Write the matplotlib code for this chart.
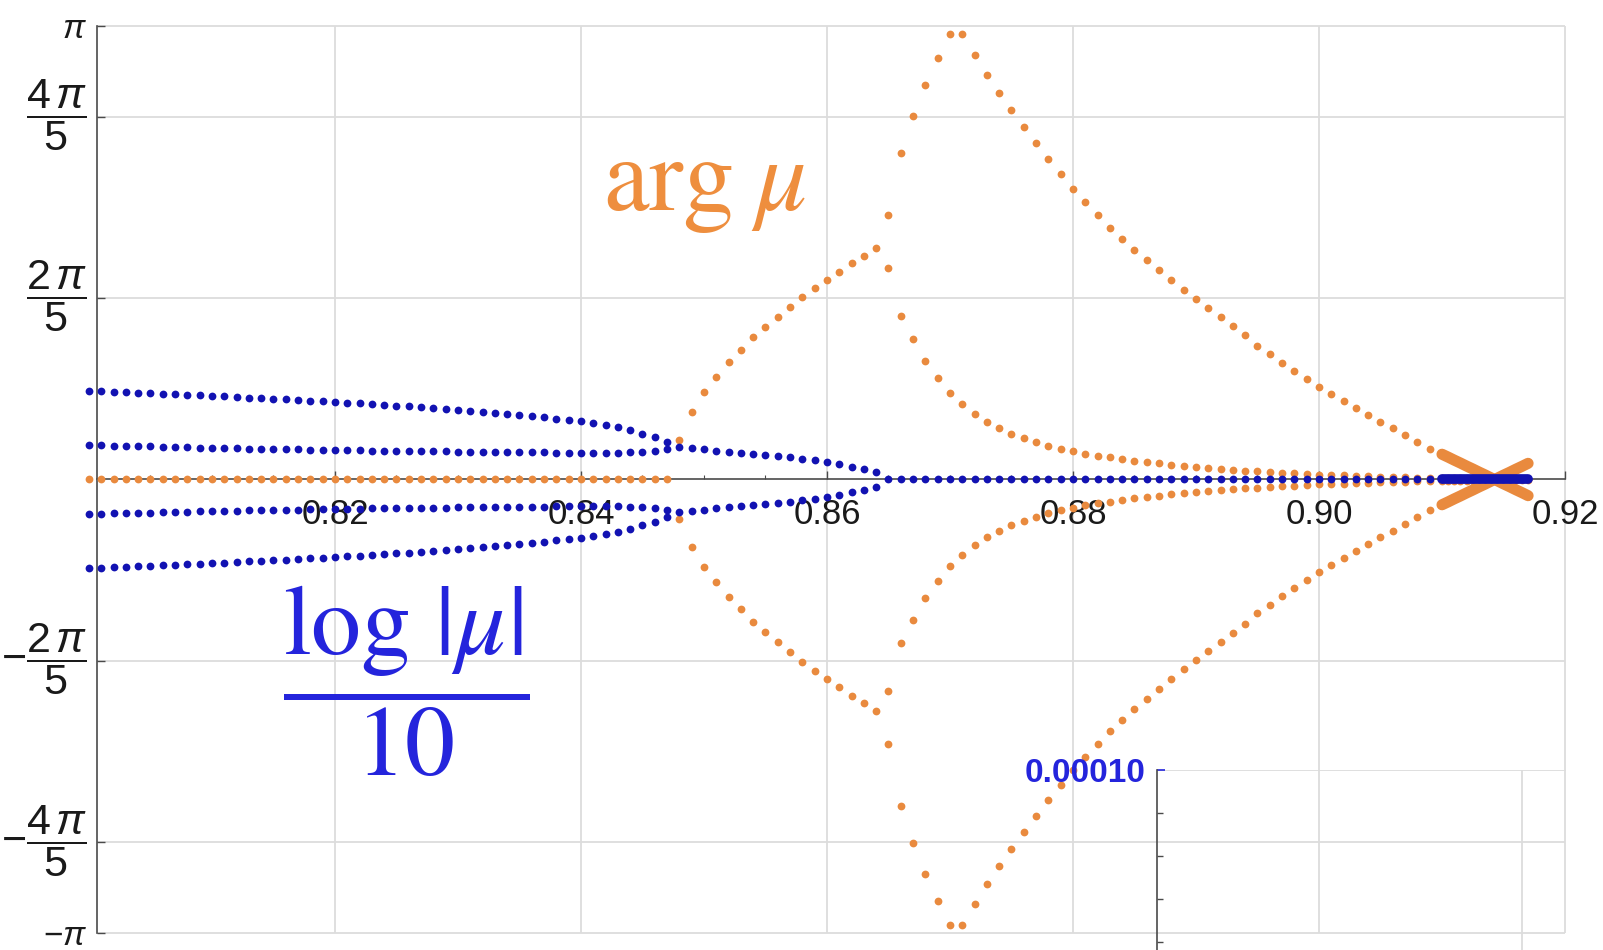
import numpy as np
import matplotlib
matplotlib.use("Agg")
import matplotlib.pyplot as plt
from matplotlib.ticker import FixedLocator, FixedFormatter, NullFormatter

plt.rcParams['font.family'] = ['Liberation Sans', 'DejaVu Sans']
plt.rcParams['mathtext.fontset'] = 'custom'
plt.rcParams['mathtext.rm'] = 'Liberation Sans'
plt.rcParams['mathtext.it'] = 'Liberation Sans:italic'
plt.rcParams['mathtext.bf'] = 'Liberation Sans:bold'

# ---- sampled parameter values -------------------------------------------
# four real positive multipliers (arg = 0)
x_real = np.round(np.linspace(0.800, 0.847, 48), 4)
log_outer = [0.615, 0.612, 0.608, 0.605, 0.601, 0.598, 0.594, 0.590, 0.587, 0.583,
             0.579, 0.575, 0.571, 0.567, 0.563, 0.559, 0.555, 0.551, 0.546, 0.542,
             0.537, 0.532, 0.527, 0.522, 0.517, 0.511, 0.506, 0.500, 0.494, 0.488,
             0.481, 0.475, 0.468, 0.461, 0.454, 0.446, 0.438, 0.430, 0.421, 0.412,
             0.402, 0.391, 0.379, 0.364, 0.343, 0.318, 0.292, 0.262]
log_inner = [0.239, 0.237, 0.235, 0.233, 0.231, 0.229, 0.227, 0.225, 0.223, 0.221,
             0.219, 0.217, 0.216, 0.214, 0.212, 0.211, 0.209, 0.208, 0.206, 0.205,
             0.204, 0.202, 0.201, 0.200, 0.199, 0.198, 0.197, 0.196, 0.195, 0.194,
             0.193, 0.192, 0.191, 0.190, 0.189, 0.188, 0.188, 0.187, 0.186, 0.186,
             0.185, 0.185, 0.185, 0.186, 0.188, 0.192, 0.199, 0.212]

# complex quartet
x_quartet = np.round(np.linspace(0.848, 0.864, 17), 4)
log_quartet = [0.227, 0.218, 0.209, 0.200, 0.193, 0.186, 0.177, 0.170, 0.163, 0.154,
               0.144, 0.135, 0.123, 0.107, 0.089, 0.071, 0.052]
arg_quartet = [0.274, 0.467, 0.606, 0.710, 0.814, 0.897, 0.987, 1.056, 1.125, 1.195,
               1.264, 1.326, 1.382, 1.437, 1.499, 1.548, 1.603]

# all four on the unit circle
x_circle = np.round(np.linspace(0.865, 0.909, 45), 4)
arg_outer = [1.832, 2.260, 2.520, 2.730, 2.920, 3.085, 3.085, 2.940, 2.800, 2.680,
             2.560, 2.440, 2.330, 2.220, 2.115, 2.015, 1.920, 1.830, 1.745, 1.665,
             1.590, 1.518, 1.448, 1.380, 1.313, 1.248, 1.185, 1.123, 1.062, 1.002,
             0.925, 0.866, 0.808, 0.752, 0.697, 0.644, 0.592, 0.542, 0.494, 0.447,
             0.400, 0.354, 0.307, 0.260, 0.212]
arg_inner = [1.465, 1.130, 0.970, 0.820, 0.700, 0.600, 0.520, 0.455, 0.400, 0.355,
             0.317, 0.285, 0.258, 0.235, 0.214, 0.196, 0.180, 0.166, 0.153, 0.141,
             0.130, 0.120, 0.111, 0.102, 0.094, 0.087, 0.080, 0.073, 0.067, 0.061,
             0.056, 0.051, 0.046, 0.042, 0.038, 0.034, 0.031, 0.028, 0.025, 0.022,
             0.019, 0.017, 0.015, 0.013, 0.011]

# refined sampling near the crossing
x_fine = np.round(np.linspace(0.9100, 0.9170, 15), 5)
arg_cross = [0.175, 0.155, 0.134, 0.114, 0.093, 0.073, 0.052, 0.032, 0.011, -0.009,
             -0.030, -0.050, -0.071, -0.091, -0.112]
arg_fine_inner = [0.010, 0.009, 0.009, 0.008, 0.008, 0.007, 0.007, 0.006, 0.006, 0.006,
                  0.005, 0.005, 0.005, 0.004, 0.004]

x_ticks = [0.82, 0.84, 0.86, 0.88, 0.90, 0.92]
x_tick_labels = ["0.82", "0.84", "0.86", "0.88", "0.90", "0.92"]
y_ticks = [-np.pi, -4 * np.pi / 5, -2 * np.pi / 5, 2 * np.pi / 5, 4 * np.pi / 5, np.pi]
y_tick_labels = [r"$-\pi$", r"$-\dfrac{4\,\pi}{5}$", r"$-\dfrac{2\,\pi}{5}$",
                 r"$\dfrac{2\,\pi}{5}$", r"$\dfrac{4\,\pi}{5}$", r"$\pi$"]

ORANGE = "#E98A3E"
ORANGE_TXT = "#EE8E3E"
BLUE = "#1212B2"
BLUE_TXT = "#2424DC"
GRID = "#DCDCDC"
AXIS = "#4A4A4A"
TEXT = "#1a1a1a"

W, H = 1603, 950
fig = plt.figure(figsize=(W / 100, H / 100), dpi=100)
fig.patch.set_facecolor("white")

ax = fig.add_axes([80 / W, (H - 945) / H, 1500 / W, 935 / H])
ax.patch.set_alpha(0)
x0 = 0.80065
ax.set_xlim(0.79927, 0.92122)
ax.set_ylim(-3.2237, 3.2514)

for s in ("top", "right"):
    ax.spines[s].set_visible(False)
ax.spines["left"].set_position(("data", x0))
ax.spines["bottom"].set_position(("data", 0))
ax.spines["left"].set_bounds(-np.pi, np.pi)
ax.spines["bottom"].set_bounds(x0, 0.92)
for s in ("left", "bottom"):
    ax.spines[s].set_color(AXIS)
    ax.spines[s].set_linewidth(1.2)
    ax.spines[s].set_zorder(1)

ax.xaxis.set_major_locator(FixedLocator(x_ticks))
ax.xaxis.set_major_formatter(FixedFormatter(x_tick_labels))
ax.xaxis.set_minor_locator(FixedLocator(
    [0.805, 0.81, 0.815, 0.825, 0.83, 0.835, 0.845, 0.85, 0.855, 0.865, 0.87,
     0.875, 0.885, 0.89, 0.895, 0.905, 0.91, 0.915]))
ax.yaxis.set_major_locator(FixedLocator(y_ticks))
ax.yaxis.set_major_formatter(NullFormatter())
ax.tick_params(axis="x", which="major", direction="in", length=6, width=1.0,
               color=AXIS, labelsize=25, pad=13, labelcolor=TEXT)
ax.tick_params(axis="x", which="minor", direction="in", length=3, width=0.8, color=AXIS)
ax.tick_params(axis="y", which="major", direction="in", length=6, width=1.0, color=AXIS)
for lab in ax.get_xticklabels():
    lab.set_zorder(5)

# y tick labels: fractions of pi, bar level with the tick
for yt, lab in zip(y_ticks, y_tick_labels):
    is_frac = "dfrac" in lab
    ax.annotate(lab, xy=(x0, yt), xycoords="data",
                xytext=(-10, 14 if is_frac else 0), textcoords="offset pixels",
                ha="right", va="center_baseline", fontsize=31 if is_frac else 24,
                color=TEXT, annotation_clip=False)

# grid
ax.vlines(x_ticks, -np.pi, np.pi, color=GRID, lw=1.3, zorder=0)
ax.hlines(y_ticks, x0, 0.92, color=GRID, lw=1.3, zorder=0)

# arg mu (orange)
orange_x = np.concatenate([x_real, x_quartet, x_quartet, x_circle, x_circle,
                           x_circle, x_circle, x_fine, x_fine, x_fine, x_fine])
orange_y = np.concatenate([np.zeros(len(x_real)), arg_quartet, -np.array(arg_quartet),
                           arg_outer, -np.array(arg_outer), arg_inner,
                           -np.array(arg_inner), arg_cross, -np.array(arg_cross),
                           arg_fine_inner, -np.array(arg_fine_inner)])
ax.plot(orange_x, orange_y, "o", ms=5.6, mew=0, color=ORANGE, zorder=3, clip_on=False)
ax.plot(x_fine, arg_cross, "-", lw=8, color=ORANGE, zorder=3, solid_capstyle="round")
ax.plot(x_fine, -np.array(arg_cross), "-", lw=8, color=ORANGE, zorder=3,
        solid_capstyle="round")

# log|mu| / 10 (blue)
blue_x = np.concatenate([x_real, x_real, x_real, x_real, x_quartet, x_quartet,
                         x_circle, x_fine])
blue_y = np.concatenate([log_outer, -np.array(log_outer), log_inner,
                         -np.array(log_inner), log_quartet, -np.array(log_quartet),
                         np.zeros(len(x_circle)), np.zeros(len(x_fine))])
ax.plot(blue_x, blue_y, "o", ms=5.6, mew=0, color=BLUE, zorder=4, clip_on=False)
ax.plot(x_fine, np.zeros(len(x_fine)), "-", lw=7, color=BLUE, zorder=4,
        solid_capstyle="round")

ax.text(0.8418, 1.866, r"$\mathrm{arg}\;\mu$", math_fontfamily="stix",
        fontsize=74, color=ORANGE_TXT, ha="left", va="baseline", zorder=6)
ax.text(0.8258, -1.40, r"$\dfrac{\log\,|\mu|}{10}$", math_fontfamily="stix",
        fontsize=72, color=BLUE_TXT, ha="center", va="center", zorder=6)

# inset panel in the lower right corner
ax_in = fig.add_axes([1157 / W, (H - 1100) / H, 600 / W, 330 / H])
ax_in.patch.set_alpha(0)
ax_in.set_xlim(0, 1)
ax_in.set_ylim(0.0001 - 330 / 43 * 1e-5, 0.0001)
for s in ("top", "right", "bottom"):
    ax_in.spines[s].set_visible(False)
ax_in.spines["left"].set_color(AXIS)
ax_in.spines["left"].set_linewidth(1.2)
ax_in.set_xticks([])
ax_in.yaxis.set_major_locator(FixedLocator([0.0001]))
ax_in.yaxis.set_major_formatter(FixedFormatter(["0.00010"]))
ax_in.yaxis.set_minor_locator(FixedLocator([9e-5, 8e-5, 7e-5, 6e-5, 5e-5]))
ax_in.tick_params(axis="y", which="major", direction="in", length=6, width=1.2,
                  color=BLUE_TXT, labelsize=24, labelcolor=BLUE_TXT, pad=8)
ax_in.tick_params(axis="y", which="minor", direction="in", length=4, width=1.0,
                  color=AXIS)
for lab in ax_in.get_yticklabels():
    lab.set_fontweight("bold")
ax_in.axhline(0.0001, 0, 0.68, color=GRID, lw=1.3, zorder=0)
ax_in.axvline(0.608, 0, 1, color=GRID, lw=1.3, zorder=0)

fig.savefig("out.png", dpi=100)
